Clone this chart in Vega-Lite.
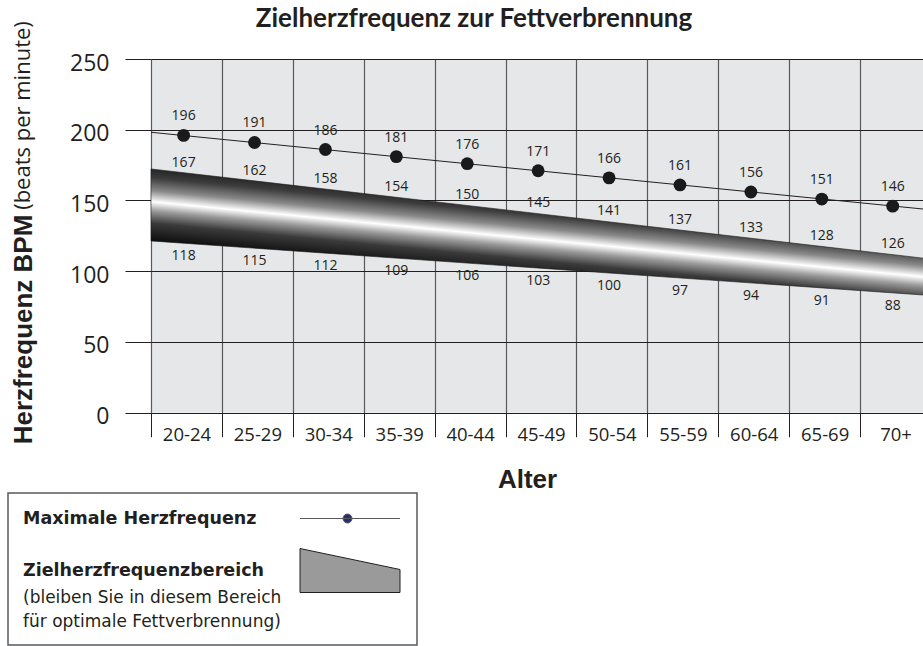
{
  "$schema": "https://vega.github.io/schema/vega-lite/v6.json",
  "width": 780,
  "height": 353.7,
  "autosize": {"type": "none"},
  "padding": {"left": 151, "top": 59, "right": 0, "bottom": 233.3},
  "background": "white",
  "config": {
    "view": {"fill": "#e6e7e8", "stroke": null},
    "font": "Open Sans"
  },
  "title": {
    "text": "Zielherzfrequenz zur Fettverbrennung",
    "font": "Lato",
    "fontSize": 26,
    "fontWeight": "bold",
    "color": "#231f20",
    "anchor": "middle",
    "dx": -67,
    "dy": 21,
    "offset": 10
  },
  "datasets": {
    "groups": [
      {"group": "20-24", "max": 196, "upper": 167, "lower": 118, "bandTop": 169.4, "bandBottom": 119.6},
      {"group": "25-29", "max": 191, "upper": 162, "lower": 115, "bandTop": 163.7, "bandBottom": 116.1},
      {"group": "30-34", "max": 186, "upper": 158, "lower": 112, "bandTop": 158.0, "bandBottom": 112.6},
      {"group": "35-39", "max": 181, "upper": 154, "lower": 109, "bandTop": 152.3, "bandBottom": 109.1},
      {"group": "40-44", "max": 176, "upper": 150, "lower": 106, "bandTop": 146.6, "bandBottom": 105.6},
      {"group": "45-49", "max": 171, "upper": 145, "lower": 103, "bandTop": 140.9, "bandBottom": 102.1},
      {"group": "50-54", "max": 166, "upper": 141, "lower": 100, "bandTop": 135.2, "bandBottom": 98.5},
      {"group": "55-59", "max": 161, "upper": 137, "lower": 97, "bandTop": 129.4, "bandBottom": 95.1},
      {"group": "60-64", "max": 156, "upper": 133, "lower": 94, "bandTop": 123.7, "bandBottom": 91.5},
      {"group": "65-69", "max": 151, "upper": 128, "lower": 91, "bandTop": 118.0, "bandBottom": 88.0},
      {"group": "70+", "max": 146, "upper": 126, "lower": 88, "bandTop": 112.2, "bandBottom": 84.5}
    ],
    "edges": [
      {"age": 20, "bandTop": 172.3, "bandBottom": 121.4, "maxLine": 198.2},
      {"age": 75, "bandTop": 108.6, "bandBottom": 82.8, "maxLine": 143.4}
    ]
  },
  "layer": [
    {
      "data": {"name": "edges"},
      "encoding": {
        "x": {"field": "age", "type": "quantitative", "scale": {"domain": [20, 75], "nice": false, "zero": false}, "axis": null}
      },
      "layer": [
        {
          "mark": {
            "type": "area",
            "stroke": "#1a1a1a",
            "strokeWidth": 0.6,
            "opacity": 1,
            "color": {
              "gradient": "linear",
              "x1": 0.5, "y1": 0.3, "x2": 0.249, "y2": 0.7185,
              "stops": [
                {"offset": 0, "color": "#262626"},
                {"offset": 0.12, "color": "#3c3c3c"},
                {"offset": 0.3, "color": "#8a8a8a"},
                {"offset": 0.454, "color": "#ffffff"},
                {"offset": 0.58, "color": "#9a9a9a"},
                {"offset": 0.75, "color": "#3a3a3a"},
                {"offset": 1, "color": "#0d0d0d"}
              ]
            }
          },
          "encoding": {
            "y": {
              "field": "bandTop", "type": "quantitative",
              "scale": {"domain": [0, 250], "nice": false},
              "axis": {
                "values": [0, 50, 100, 150, 200, 250],
                "grid": true, "gridColor": "#231f20", "gridWidth": 1, "gridOpacity": 1,
                "ticks": true, "tickSize": 26, "tickColor": "#231f20", "tickWidth": 1,
                "domain": false,
                "labelFont": "Open Sans", "labelFontSize": 23, "labelColor": "#231f20",
                "labelPadding": 16, "labelOffset": 4, "labelBaseline": "middle",
                "title": "Herzfrequenz BPM",
                "titleFont": "Liberation Sans", "titleFontSize": 26, "titleFontWeight": "bold", "titleColor": "#231f20",
                "titleX": -119.3, "titleY": 270, "titleAngle": 270, "titleAlign": "center", "titleBaseline": "alphabetic"
              }
            },
            "y2": {"field": "bandBottom"}
          }
        },
        {
          "mark": {"type": "line", "color": "#231f20", "strokeWidth": 1},
          "encoding": {
            "y": {
              "field": "maxLine", "type": "quantitative",
              "scale": {"domain": [0, 250], "nice": false},
              "axis": {
                "values": [0, 50, 100, 150, 200, 250],
                "grid": true, "gridColor": "#231f20", "gridWidth": 1, "gridOpacity": 1,
                "ticks": true, "tickSize": 26, "tickColor": "#231f20", "tickWidth": 1,
                "domain": false,
                "labelFont": "Open Sans", "labelFontSize": 23, "labelColor": "#231f20",
                "labelPadding": 16, "labelOffset": 4, "labelBaseline": "middle",
                "title": "Herzfrequenz BPM",
                "titleFont": "Liberation Sans", "titleFontSize": 26, "titleFontWeight": "bold", "titleColor": "#231f20",
                "titleX": -119.3, "titleY": 270, "titleAngle": 270, "titleAlign": "center", "titleBaseline": "alphabetic"
              }
            }
          }
        }
      ]
    },
    {
      "data": {"name": "groups"},
      "encoding": {
        "x": {
          "field": "group", "type": "nominal", "sort": null, "bandPosition": 0.46,
          "scale": {"type": "band", "paddingInner": 0, "paddingOuter": 0},
          "axis": {
            "tickBand": "extent",
            "grid": true, "gridColor": "#58595b", "gridWidth": 1.2, "gridOpacity": 1,
            "ticks": true, "tickSize": 24, "tickColor": "#231f20", "tickWidth": 1,
            "domain": false,
            "labelFont": "Open Sans", "labelFontSize": 18.5, "labelColor": "#231f20", "labelAngle": 0,
            "labelBaseline": "alphabetic", "labelPadding": 4,
            "title": "Alter",
            "titleFont": "Liberation Sans", "titleFontSize": 26, "titleFontWeight": "bold", "titleColor": "#231f20",
            "titleX": 376, "titleY": 74.3, "titleAlign": "center", "titleBaseline": "alphabetic"
          }
        }
      },
      "layer": [
        {
          "mark": {"type": "point", "filled": true, "size": 165, "color": "#1a1a1a", "opacity": 1},
          "encoding": {
            "y": {"field": "max", "type": "quantitative", "scale": {"domain": [0, 250], "nice": false}, "axis": null}
          }
        },
        {
          "mark": {"type": "text", "font": "Open Sans", "fontSize": 14, "color": "#231f20", "dy": -19, "baseline": "middle"},
          "encoding": {
            "y": {"field": "max", "type": "quantitative", "scale": {"domain": [0, 250], "nice": false}, "axis": null},
            "text": {"field": "max", "type": "quantitative"}
          }
        },
        {
          "mark": {"type": "text", "font": "Open Sans", "fontSize": 14, "color": "#231f20", "dy": -10, "baseline": "middle"},
          "encoding": {
            "y": {"field": "bandTop", "type": "quantitative", "scale": {"domain": [0, 250], "nice": false}, "axis": null},
            "text": {"field": "upper", "type": "quantitative"}
          }
        },
        {
          "mark": {"type": "text", "font": "Open Sans", "fontSize": 14, "color": "#231f20", "dy": 13, "baseline": "middle"},
          "encoding": {
            "y": {"field": "bandBottom", "type": "quantitative", "scale": {"domain": [0, 250], "nice": false}, "axis": null},
            "text": {"field": "lower", "type": "quantitative"}
          }
        }
      ]
    },
    {
      "data": {"name": "groups"},
      "mark": {"type": "point", "filled": true, "opacity": 0},
      "encoding": {
        "y": {
          "field": "max", "type": "quantitative",
          "scale": {"domain": [0, 250], "nice": false},
          "axis": {
            "orient": "right", "labels": false, "ticks": false, "domain": false, "grid": false,
            "title": "(beats per minute)",
            "titleFont": "Open Sans", "titleFontSize": 22, "titleFontWeight": "normal", "titleColor": "#231f20",
            "titleAngle": 270, "titleX": -901.7, "titleY": 56, "titleAlign": "center", "titleBaseline": "alphabetic"
          }
        },
        "fill": {
          "datum": "Maximale Herzfrequenz", "type": "nominal",
          "scale": {
            "domain": ["Maximale Herzfrequenz", "Zielherzfrequenzbereich"],
            "range": ["#2b2d6e", "#9a9a9a"]
          },
          "legend": {
            "orient": "none", "legendX": -143, "legendY": 434,
            "direction": "vertical", "columns": 1,
            "title": ["(bleiben Sie in diesem Bereich", "für optimale Fettverbrennung)"],
            "titleOrient": "bottom", "titleFont": "DejaVu Sans", "titleFontSize": 17, "titleFontWeight": "normal",
            "titleColor": "#231f20", "titleAnchor": "start", "titleAlign": "left", "titleLineHeight": 24,
            "titleBaseline": "alphabetic", "titlePadding": 8, "titleLimit": 1000,
            "labelFont": "DejaVu Sans", "labelFontSize": 17.5, "labelFontWeight": "bold", "labelColor": "#231f20",
            "labelLimit": 1000, "labelAlign": "left",
            "symbolSize": 400, "symbolOpacity": 1, "rowPadding": 19,
            "padding": 15, "strokeColor": "#58595b", "fillColor": "white",
            "encode": {
              "symbols": {
                "update": {
                  "shape": {"signal": "datum.value === 'Maximale Herzfrequenz' ? 'M-5,0L5,0M-0.7,0A0.45,0.45,0,1,1,0.2,0A0.45,0.45,0,1,1,-0.7,0Z' : 'M-5,-2.2L5,-0.1L5,2.2L-5,2.2Z'"},
                  "stroke": {"signal": "datum.value === 'Maximale Herzfrequenz' ? '#58595b' : '#231f20'"},
                  "strokeWidth": {"value": 1},
                  "opacity": {"value": 1},
                  "x": {"value": 327}
                }
              },
              "labels": {
                "update": {
                  "x": {"value": 0}
                }
              },
              "legend": {
                "update": {
                  "strokeWidth": {"value": 1.5}
                }
              }
            }
          }
        }
      }
    }
  ],
  "resolve": {"scale": {"x": "independent"}, "axis": {"x": "independent", "y": "independent"}}
}
